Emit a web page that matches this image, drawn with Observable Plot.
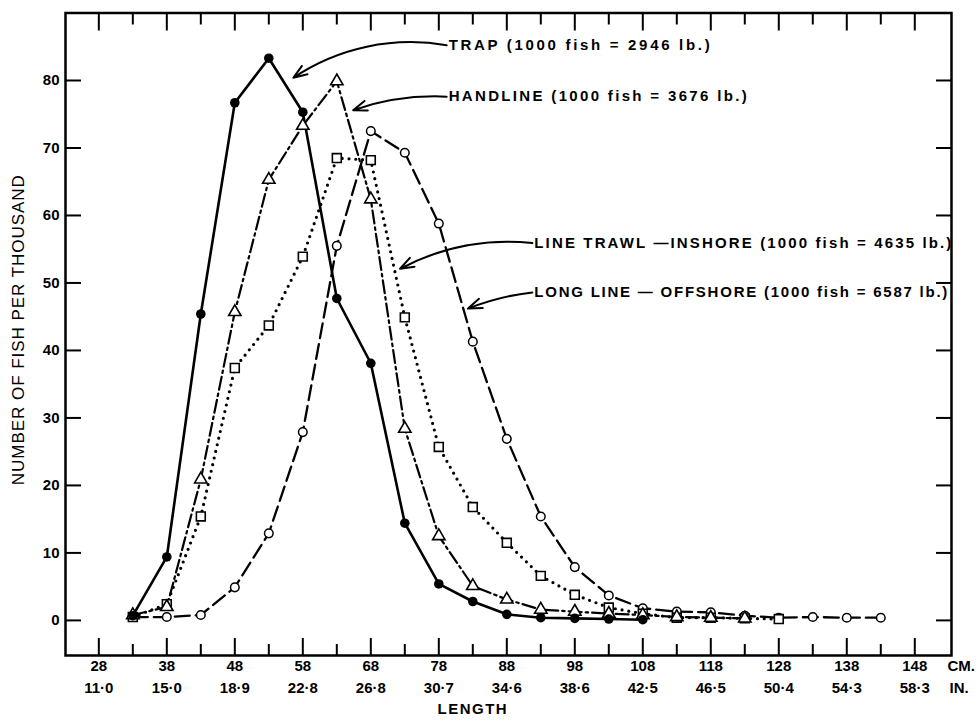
<!DOCTYPE html>
<html><head><meta charset="utf-8">
<script src="https://cdn.jsdelivr.net/npm/d3@7"></script>
<script src="https://cdn.jsdelivr.net/npm/@observablehq/plot@0.6"></script>
<style>
body{margin:0;background:#fff}
</style>
</head><body><div id="chart"></div>
<script>
// ---- data (length in cm; number of fish per thousand) ----
const lengthsCm = [33,38,43,48,53,58,63,68,73,78,83,88,93,98,103,108,113,118,123,128,133,138,143];
const trap      = [0.7,9.4,45.4,76.7,83.3,75.3,47.7,38.1,14.4,5.4,2.8,0.9,0.4,0.3,0.2,0.1];
const handline  = [0.8,2.0,20.9,45.7,65.3,73.3,79.9,62.4,28.4,12.5,5.1,3.1,1.6,1.3,1.0,0.8,0.5,0.4,0.3];
const lineTrawl = [0.5,2.4,15.4,37.4,43.7,53.9,68.5,68.2,44.9,25.7,16.8,11.5,6.6,3.8,1.9,1.0,0.4,0.4,0.3,0.2];
const longLine  = [0.5,0.5,0.8,4.9,12.9,27.9,55.5,72.5,69.3,58.8,41.3,26.9,15.4,7.9,3.7,1.8,1.3,1.2,0.7,0.4,0.5,0.4,0.4];

// ---- axis ticks / labels ----
const cmTicks    = [28,38,48,58,68,78,88,98,108,118,128,138,148];
const minorTicks = [33,43,53,63,73,83,93,103,113,123,133,143];
const inchLabels = ["11·0","15·0","18·9","22·8","26·8","30·7","34·6","38·6","42·5","46·5","50·4","54·3","58·3"];
const yTicks     = [0,10,20,30,40,50,60,70,80];
const xTitle = "LENGTH";
const yTitle = "NUMBER OF FISH PER THOUSAND";

// ---- annotations (data units) ----
const annoLabels = ["TRAP (1000 fish = 2946 lb.)","HANDLINE (1000 fish = 3676 lb.)","LINE TRAWL —INSHORE (1000 fish = 4635 lb.)","LONG LINE — OFFSHORE (1000 fish = 6587 lb.)"];
const annoTextX  = [79.3, 79.3, 91.9, 91.9];
const annoTextY  = [85.2, 77.6, 55.9, 48.6];
const annoTipX   = [56.6, 65.4, 72.3, 82.3];
const annoTipY   = [80.4, 75.6, 52.1, 46.2];
const annoBend   = [-22, -11, -17, -8];
const annoWidths = [261, 298, 417, 413];

// ---- build tables ----
const rows = (ys) => ys.map((v, i) => ({x: lengthsCm[i], y: v}));
const trapData = rows(trap), handData = rows(handline), trawlData = rows(lineTrawl), longData = rows(longLine);
const annotations = annoLabels.map((label, i) => ({label, tx: annoTextX[i], ty: annoTextY[i], ax: annoTipX[i], ay: annoTipY[i], bend: annoBend[i]}));

const W = 979, H = 721, mL = 65, mR = 28, mT = 12.5, mB = 66;
const plotW = W - mL - mR, plotH = H - mT - mB;
const FONT = "Liberation Sans, Arial, sans-serif";

const chart = Plot.plot({
  width: W, height: H,
  marginLeft: mL, marginRight: mR, marginTop: mT, marginBottom: mB,
  x: {domain: [23.1, 153.4], axis: null},
  y: {domain: [-5.2, 90], axis: null},
  style: {background: "#fff", color: "#000", fontFamily: FONT},
  marks: [
    Plot.frame({stroke: "#000", strokeWidth: 2.5}),
    // top ticks
    Plot.tickX(cmTicks, {x: d => d, insetBottom: plotH - 18, stroke: "#000", strokeWidth: 2}),
    Plot.tickX(minorTicks, {x: d => d, insetBottom: plotH - 12, stroke: "#000", strokeWidth: 2}),
    // bottom ticks
    Plot.tickX(cmTicks, {x: d => d, insetTop: plotH - 17, stroke: "#000", strokeWidth: 2}),
    Plot.tickX(minorTicks, {x: d => d, insetTop: plotH - 11, stroke: "#000", strokeWidth: 2}),
    // left & right ticks
    Plot.tickY(yTicks, {y: d => d, insetRight: plotW - 16, stroke: "#000", strokeWidth: 2}),
    Plot.tickY(yTicks, {y: d => d, insetLeft: plotW - 15, stroke: "#000", strokeWidth: 2}),
    // tick labels
    Plot.text(yTicks, {y: d => d, text: d => String(d), frameAnchor: "left", dx: -6, textAnchor: "end", fontSize: 15, fontWeight: "bold", fill: "#000"}),
    Plot.text(cmTicks, {x: d => d, text: d => String(d), frameAnchor: "bottom", dy: 15, fontSize: 15, fontWeight: "bold", fill: "#000"}),
    Plot.text(cmTicks, {x: d => d, text: (d, i) => inchLabels[i], frameAnchor: "bottom", dy: 37, fontSize: 15, fontWeight: "bold", fill: "#000"}),
    Plot.text(["CM."], {text: d => d, frameAnchor: "bottom-right", dx: -4, dy: 15, textAnchor: "start", fontSize: 15, fontWeight: "bold", fill: "#000"}),
    Plot.text(["IN."], {text: d => d, frameAnchor: "bottom-right", dx: -2, dy: 37, textAnchor: "start", fontSize: 15, fontWeight: "bold", fill: "#000"}),
    Plot.text([xTitle], {text: d => d, x: 83, frameAnchor: "bottom", dy: 58, fontSize: 15, fontWeight: "bold", fill: "#000", ariaDescription: "xtitle"}),
    Plot.text([yTitle], {text: d => d, y: 43, frameAnchor: "left", dx: -47, rotate: -90, textAnchor: "middle", fontSize: 17, fill: "#000", ariaDescription: "ytitle"}),
    // series lines
    Plot.line(trapData, {x: "x", y: "y", stroke: "#000", strokeWidth: 2.6}),
    Plot.line(handData, {x: "x", y: "y", stroke: "#000", strokeWidth: 2.2, strokeDasharray: "13,4,2.5,4"}),
    Plot.line(trawlData, {x: "x", y: "y", stroke: "#000", strokeWidth: 3.2, strokeDasharray: "0,6.8", strokeLinecap: "round"}),
    Plot.line(longData, {x: "x", y: "y", stroke: "#000", strokeWidth: 2.3, strokeDasharray: "15,6"}),
    // markers
    Plot.dot(longData, {x: "x", y: "y", symbol: "circle", r: 4.3, fill: "#fff", stroke: "#000", strokeWidth: 1.5}),
    Plot.dot(trawlData, {x: "x", y: "y", symbol: "square", r: 5, fill: "#fff", stroke: "#000", strokeWidth: 1.6}),
    Plot.dot(handData, {x: "x", y: "y", symbol: "triangle", r: 4.6, fill: "#fff", stroke: "#000", strokeWidth: 1.6}),
    Plot.dot(trapData, {x: "x", y: "y", symbol: "circle", r: 4.8, fill: "#000", stroke: "none"}),
    // annotations
    ...annotations.map(a => Plot.arrow([a], {x1: "tx", y1: "ty", x2: "ax", y2: "ay", bend: a.bend, stroke: "#000", strokeWidth: 2, headLength: 11, headAngle: 40, insetStart: 1})),
    Plot.text(annotations, {x: "tx", y: "ty", text: "label", textAnchor: "start", dx: 1, fontSize: 15, fontWeight: "bold", fill: "#000", ariaDescription: "anno"})
  ]
});
document.getElementById("chart").appendChild(chart);
d3.select(chart).selectAll('g[aria-description="anno"] text')
  .attr("textLength", (d, i) => annoWidths[i]).attr("lengthAdjust", "spacing");
d3.select(chart).selectAll('g[aria-description="ytitle"] text')
  .attr("textLength", 310).attr("lengthAdjust", "spacing");
d3.select(chart).selectAll('g[aria-description="xtitle"] text').attr("letter-spacing", "1.5");
</script>
</body></html>
